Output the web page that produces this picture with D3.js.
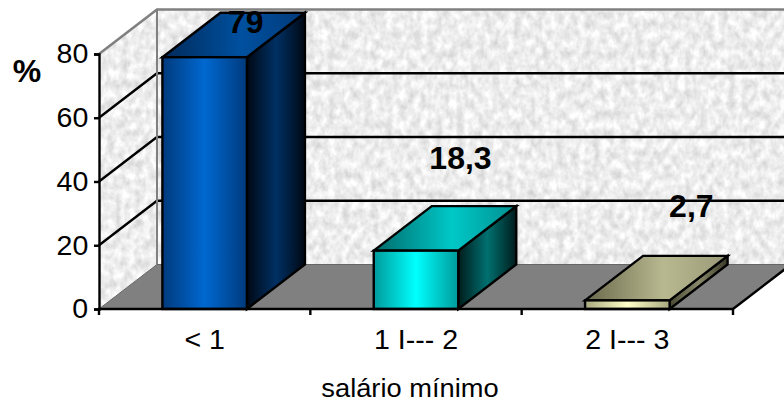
<!DOCTYPE html>
<html>
<head>
<meta charset="utf-8">
<script src="https://cdnjs.cloudflare.com/ajax/libs/d3/7.8.5/d3.min.js"></script>
<style>
html,body{margin:0;padding:0;background:#fff;overflow:hidden}
svg{display:block}
text{font-family:"Liberation Sans",Arial,sans-serif;fill:#000}
.wide{transform-box:fill-box;transform-origin:center;transform:scaleX(1.07)}
.slight{transform-box:fill-box;transform-origin:center;transform:scaleX(1.02)}
</style>
</head>
<body>
<svg id="chart" width="784" height="403"></svg>
<script>
// Wage bracket distribution, drawn as a 3D column chart in oblique projection.
const categories = ["< 1", "1 I--- 2", "2 I--- 3"];
const values = [79, 18.3, 2.7];
const valueLabels = ["79", "18,3", "2,7"];
const yTicks = [0, 20, 40, 60, 80];
const xTitle = "salário mínimo";
const yTitle = "%";

// Per-column colours: edge and centre of the shaded gradient on each face.
const frontShades = [["#003a7c", "#0068d0"], ["#009a9a", "#00ffff"], ["#a8a880", "#ffffc8"]];
const topShades   = [["#002a5a", "#00509f", "#003a7a"], ["#006a6a", "#00c8c8", "#009090"], ["#6a6a4c", "#b8b890", "#9a9a78"]];
const sideShades  = [["#000814", "#003063", "#000814"], ["#001c1c", "#007070", "#001c1c"], ["#4a4a34", "#88886a", "#3a3a28"]];

const W = 784, H = 403;
const depthX = 58, depthY = -44.5;
const x0 = 99, x1 = 733, yBase = 309, yTop = 54;
const lineW = 2.4;

const x = d3.scaleBand().domain(categories).range([x0, x1]).paddingInner(0.6).paddingOuter(0.3);
const y = d3.scaleLinear().domain([0, 80]).range([yBase, yTop]);
const step = x.step();

const svg = d3.select("#chart");
const defs = svg.append("defs");

// Mottled stone texture for the chart walls.
const stone = defs.append("filter").attr("id", "stone")
  .attr("filterUnits", "userSpaceOnUse")
  .attr("x", 0).attr("y", 0).attr("width", W).attr("height", H)
  .attr("color-interpolation-filters", "sRGB");
stone.append("feTurbulence").attr("type", "fractalNoise")
  .attr("baseFrequency", "0.14 0.10").attr("numOctaves", 3).attr("seed", 11);
stone.append("feColorMatrix").attr("type", "matrix")
  .attr("values", "0.26 0 0 0 0.80  0.26 0 0 0 0.80  0.26 0 0 0 0.80  0 0 0 0 1");

function gradient(id, stops) {
  const g = defs.append("linearGradient").attr("id", id).attr("x1", 0).attr("x2", 1).attr("y1", 0).attr("y2", 0);
  stops.forEach(([o, c]) => g.append("stop").attr("offset", o).attr("stop-color", c));
}
values.forEach((v, i) => {
  const [fe, fc] = frontShades[i];
  gradient("front" + i, [[0, fe], [0.5, fc], [1, fe]]);
  const [te, tc, tr] = topShades[i];
  gradient("top" + i, [[0, te], [0.55, tc], [1, tr]]);
  const [se, sc, sr] = sideShades[i];
  gradient("side" + i, [[0, se], [0.5, sc], [1, sr]]);
});

const poly = pts => pts.map(p => p.join(",")).join(" ");

// Walls
const wallClip = defs.append("clipPath").attr("id", "walls");
wallClip.append("polygon").attr("points", poly([[x0, yBase], [x0, yTop], [x0 + depthX, yTop + depthY], [W, yTop + depthY], [W, yBase + depthY], [x0 + depthX, yBase + depthY]]));
svg.append("g").attr("clip-path", "url(#walls)")
  .append("rect").attr("width", W).attr("height", H).attr("filter", "url(#stone)");

// Grid lines run along the side wall, then across the back wall.
const grid = svg.append("g").attr("fill", "none").attr("stroke", "#000").attr("stroke-width", lineW);
yTicks.filter(t => t > 0 && t < 80).forEach(t => {
  grid.append("polyline").attr("points", poly([[x0, y(t)], [x0 + depthX, y(t) + depthY], [W, y(t) + depthY]]));
});

// Wall outline
svg.append("polyline").attr("fill", "none").attr("stroke", "#808080").attr("stroke-width", 2.6)
  .attr("points", poly([[x0, yTop], [x0 + depthX, yTop + depthY], [W, yTop + depthY]]));
svg.append("line").attr("stroke", "#808080").attr("stroke-width", 2)
  .attr("x1", x0 + depthX).attr("x2", x0 + depthX).attr("y1", yTop + depthY).attr("y2", yBase + depthY);

// Floor
svg.append("polygon").attr("fill", "#808080")
  .attr("points", poly([[x0, yBase], [x0 + depthX, yBase + depthY], [x1 + depthX, yBase + depthY], [x1, yBase]]));
svg.append("line").attr("stroke", "#666").attr("stroke-width", 1)
  .attr("x1", x0 + depthX).attr("x2", W).attr("y1", yBase + depthY).attr("y2", yBase + depthY);
svg.append("line").attr("stroke", "#666").attr("stroke-width", 1)
  .attr("x1", x0).attr("x2", x0 + depthX).attr("y1", yBase).attr("y2", yBase + depthY);
svg.append("line").attr("stroke", "#000").attr("stroke-width", lineW)
  .attr("x1", x1).attr("x2", x1 + depthX).attr("y1", yBase).attr("y2", yBase + depthY);

// Columns
const bars = svg.append("g").attr("stroke", "#000").attr("stroke-width", lineW).attr("stroke-linejoin", "miter");
categories.forEach((c, i) => {
  const l = x(c), r = l + x.bandwidth(), t = y(values[i]);
  bars.append("polygon").attr("fill", `url(#side${i})`)
    .attr("points", poly([[r, t], [r + depthX, t + depthY], [r + depthX, yBase + depthY], [r, yBase]]));
  bars.append("polygon").attr("fill", `url(#top${i})`)
    .attr("points", poly([[l, t], [l + depthX, t + depthY], [r + depthX, t + depthY], [r, t]]));
  bars.append("rect").attr("fill", `url(#front${i})`)
    .attr("x", l).attr("y", t).attr("width", r - l).attr("height", yBase - t);
});

// Value axis
const yAxis = d3.axisLeft(y).tickValues(yTicks).tickSize(5).tickPadding(6).tickFormat(d3.format("d"));
const yg = svg.append("g").attr("transform", `translate(${x0},0)`).call(yAxis);
yg.select(".domain").attr("stroke", "#000").attr("stroke-width", lineW);
yg.selectAll(".tick line").attr("stroke", "#000").attr("stroke-width", lineW);
yg.selectAll("text").attr("class", "slight").style("font-family", '"Liberation Sans",Arial,sans-serif').style("font-size", "28px").attr("fill", "#000");

// Category axis: labels centred in each band, ticks on the band edges.
const xAxis = d3.axisBottom(x).tickSize(0).tickPadding(20);
const xg = svg.append("g").attr("transform", `translate(0,${yBase})`).call(xAxis);
xg.select(".domain").remove();
xg.selectAll("text").attr("class", "slight").style("font-family", '"Liberation Sans",Arial,sans-serif').style("font-size", "28px").attr("fill", "#000");
const edges = d3.range(categories.length + 1).map(i => x0 + i * step);
svg.append("line").attr("stroke", "#000").attr("stroke-width", lineW).attr("x1", x0 - 1).attr("x2", x1 + 1).attr("y1", yBase).attr("y2", yBase);
svg.append("g").selectAll("line").data(edges).join("line")
  .attr("stroke", "#000").attr("stroke-width", lineW)
  .attr("x1", d => d).attr("x2", d => d).attr("y1", yBase).attr("y2", yBase + 6);

// Value labels sit behind and above their columns.
const labelNudge = [[41, -24.5], [44.5, -81.5], [64, -83]];
svg.append("g").selectAll("text").data(valueLabels).join("text")
  .attr("text-anchor", "middle")
  .attr("font-weight", "bold").attr("font-size", 32)
  .attr("x", (d, i) => x(categories[i]) + x.bandwidth() / 2 + labelNudge[i][0])
  .attr("y", (d, i) => y(values[i]) + labelNudge[i][1])
  .text(d => d);

svg.append("text").attr("x", 27).attr("y", 81.5).attr("text-anchor", "middle")
  .attr("font-weight", "bold").attr("font-size", 32).text(yTitle);
svg.append("text").attr("class", "wide").attr("x", 410).attr("y", 397.5).attr("text-anchor", "middle")
  .attr("font-size", 25.5).text(xTitle);
</script>
</body>
</html>
